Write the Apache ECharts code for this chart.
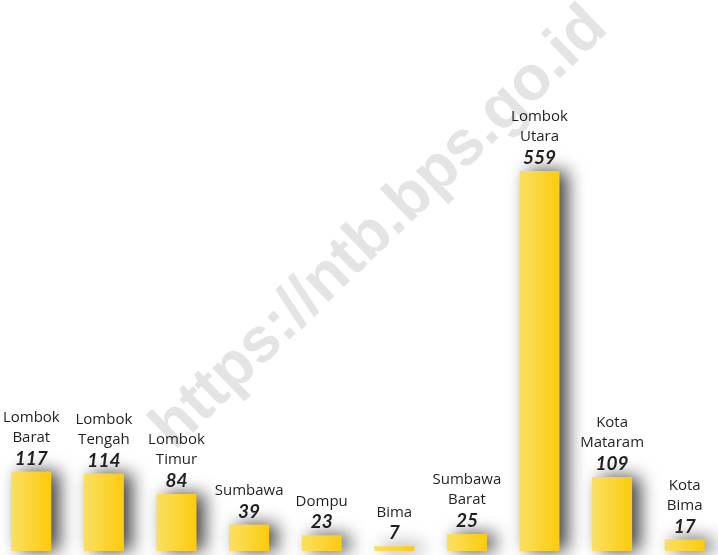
<!DOCTYPE html>
<html>
<head>
<meta charset="utf-8">
<script src="https://cdn.jsdelivr.net/npm/echarts@6/dist/echarts.min.js"></script>
<style>
  html, body { margin: 0; padding: 0; background: #fff; }
  #chart { width: 718px; height: 555px; }
</style>
</head>
<body>
<div id="chart"></div>
<script>
  // kabupaten/kota names (line break = label wrap)
  var categories = ['Lombok\nBarat', 'Lombok\nTengah', 'Lombok\nTimur', 'Sumbawa', 'Dompu',
    'Bima', 'Sumbawa\nBarat', 'Lombok\nUtara', 'Kota\nMataram', 'Kota\nBima'];
  var values = [117, 114, 84, 39, 23, 7, 25, 559, 109, 17];

  var chart = echarts.init(document.getElementById('chart'));

  chart.setOption({
    animation: false,
    backgroundColor: '#ffffff',
    grid: { left: -5, right: -3, top: 171, bottom: 4, outerBoundsMode: 'none' },
    xAxis: {
      type: 'category',
      data: categories,
      show: false
    },
    yAxis: {
      type: 'value',
      min: 0,
      max: 559,
      show: false
    },
    graphic: [{
      type: 'text',
      z: -10,
      x: 380,
      y: 228,
      rotation: 44 * Math.PI / 180,
      style: {
        text: 'https://ntb.bps.go.id',
        font: 'bold 63px "Liberation Sans", Arial, sans-serif',
        fill: '#e4e4e4',
        align: 'center',
        verticalAlign: 'middle'
      }
    }],
    series: [{
      type: 'bar',
      data: values,
      barWidth: 40,
      itemStyle: {
        color: new echarts.graphic.LinearGradient(0, 0, 1, 0, [
          { offset: 0, color: '#fadf63' },
          { offset: 1, color: '#fdcb0c' }
        ]),
        shadowColor: 'rgba(0, 0, 0, 0.75)',
        shadowBlur: 18,
        shadowOffsetX: 8,
        shadowOffsetY: 0
      },
      label: {
        show: true,
        position: 'top',
        distance: 2,
        align: 'center',
        textShadowColor: 'transparent',
        textShadowBlur: 0,
        formatter: function (p) {
          var lines = p.name.split('\n').map(function (s) { return '{n|' + s + '}'; });
          return lines.join('\n') + '\n{v|' + p.value + '}';
        },
        rich: {
          n: {
            fontFamily: '"Open Sans", "Noto Sans", sans-serif',
            fontSize: 15,
            color: '#231f20',
            lineHeight: 20,
            align: 'center',
            textShadowColor: 'transparent',
            textShadowBlur: 0
          },
          v: {
            fontFamily: 'Lato, sans-serif',
            fontStyle: 'italic',
            fontWeight: 'bold',
            fontSize: 19,
            color: '#231f20',
            lineHeight: 22,
            align: 'center',
            textShadowColor: 'transparent',
            textShadowBlur: 0
          }
        }
      }
    }]
  });
</script>
</body>
</html>
